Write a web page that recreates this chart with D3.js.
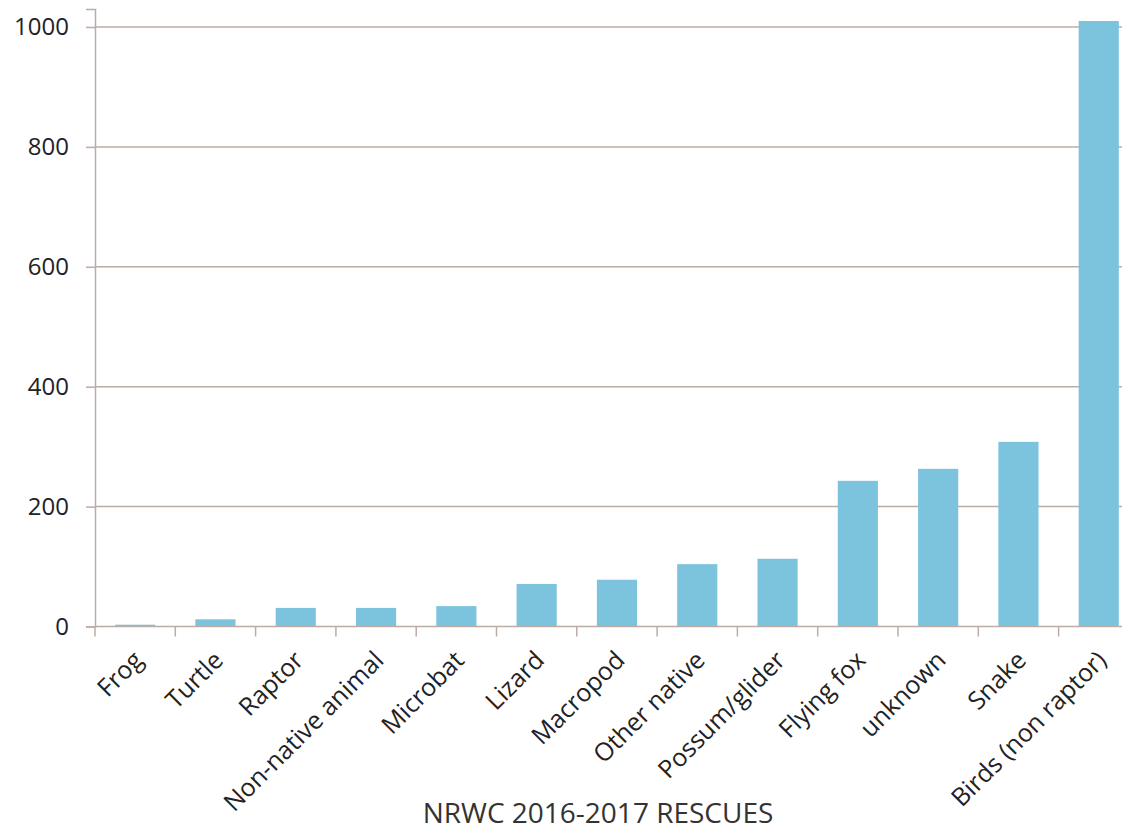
<!DOCTYPE html>
<html>
<head>
<meta charset="utf-8">
<script src="https://cdn.jsdelivr.net/npm/d3@7"></script>
<style>
  body { margin: 0; background: #fff; }
  svg { display: block; font-family: "Open Sans", "Lato", sans-serif; }
</style>
</head>
<body>
<div id="chart"></div>
<script>
// Rescue counts by animal group
const categories = ["Frog", "Turtle", "Raptor", "Non-native animal", "Microbat", "Lizard",
  "Macropod", "Other native", "Possum/glider", "Flying fox", "unknown", "Snake", "Birds (non raptor)"];
const rescues = [3, 12, 31, 31, 34, 71, 78, 104, 113, 243, 263, 308, 1010];
const yTicks = [0, 200, 400, 600, 800, 1000];
const xTitle = "NRWC 2016-2017 RESCUES";

const W = 1122, H = 832;
const left = 95, zeroY = 626.5, topY = 9;
const band = 80.3;

const svg = d3.select("#chart")
  .append("svg")
    .attr("width", W)
    .attr("height", H);

const x = d3.scaleBand()
  .domain(categories)
  .range([left, left + band * categories.length])
  .paddingInner(0.5)
  .paddingOuter(0.25);

const y = d3.scaleLinear()
  .domain([0, 1030])
  .range([zeroY, topY]);

const lineColor = "#bcaca6";

// gridlines
svg.append("g")
  .selectAll("line")
  .data(yTicks.filter(d => d > 0))
  .join("line")
    .attr("x1", left)
    .attr("x2", W)
    .attr("y1", d => y(d))
    .attr("y2", d => y(d))
    .attr("stroke", lineColor)
    .attr("stroke-width", 1.5);

// bars
svg.append("g")
  .selectAll("rect")
  .data(categories)
  .join("rect")
    .attr("x", d => x(d))
    .attr("y", (d, i) => y(rescues[i]))
    .attr("width", x.bandwidth())
    .attr("height", (d, i) => zeroY - y(rescues[i]))
    .attr("fill", "#7cc3dd");

// Y axis
const yAxis = svg.append("g")
  .attr("transform", `translate(${left},0)`)
  .call(d3.axisLeft(y).tickValues(yTicks).tickSize(9).tickPadding(17).tickFormat(d3.format("d")))
  .attr("font-family", null)
  .attr("font-size", null);
yAxis.select(".domain").attr("stroke", lineColor).attr("stroke-width", 1.5);
yAxis.selectAll(".tick line").attr("stroke", lineColor).attr("stroke-width", 1.5);
yAxis.selectAll("text").attr("font-size", 24).attr("fill", "#222");

// X axis with ticks at band edges
const xAxis = svg.append("g")
  .attr("transform", `translate(0,${zeroY})`);
xAxis.append("line")
  .attr("x1", left)
  .attr("x2", W)
  .attr("stroke", lineColor)
  .attr("stroke-width", 1.5);
xAxis.selectAll(".edge")
  .data(categories)
  .join("line")
    .attr("class", "edge")
    .attr("x1", d => x(d) - x.step() * 0.25)
    .attr("x2", d => x(d) - x.step() * 0.25)
    .attr("y1", 0)
    .attr("y2", 10)
    .attr("stroke", lineColor)
    .attr("stroke-width", 1.5);
xAxis.selectAll("text")
  .data(categories)
  .join("text")
    .attr("transform", d => `translate(${x(d) + x.bandwidth() / 2 - 4},${22}) rotate(-45)`)
    .attr("text-anchor", "end")
    .attr("dy", "0.75em")
    .attr("font-size", 25)
    .attr("fill", "#222")
    .text(d => d);

// axis title
svg.append("text")
  .attr("x", 598)
  .attr("y", 823)
  .attr("text-anchor", "middle")
  .attr("font-size", 28)
  .attr("fill", "#333")
  .text(xTitle);
</script>
</body>
</html>
